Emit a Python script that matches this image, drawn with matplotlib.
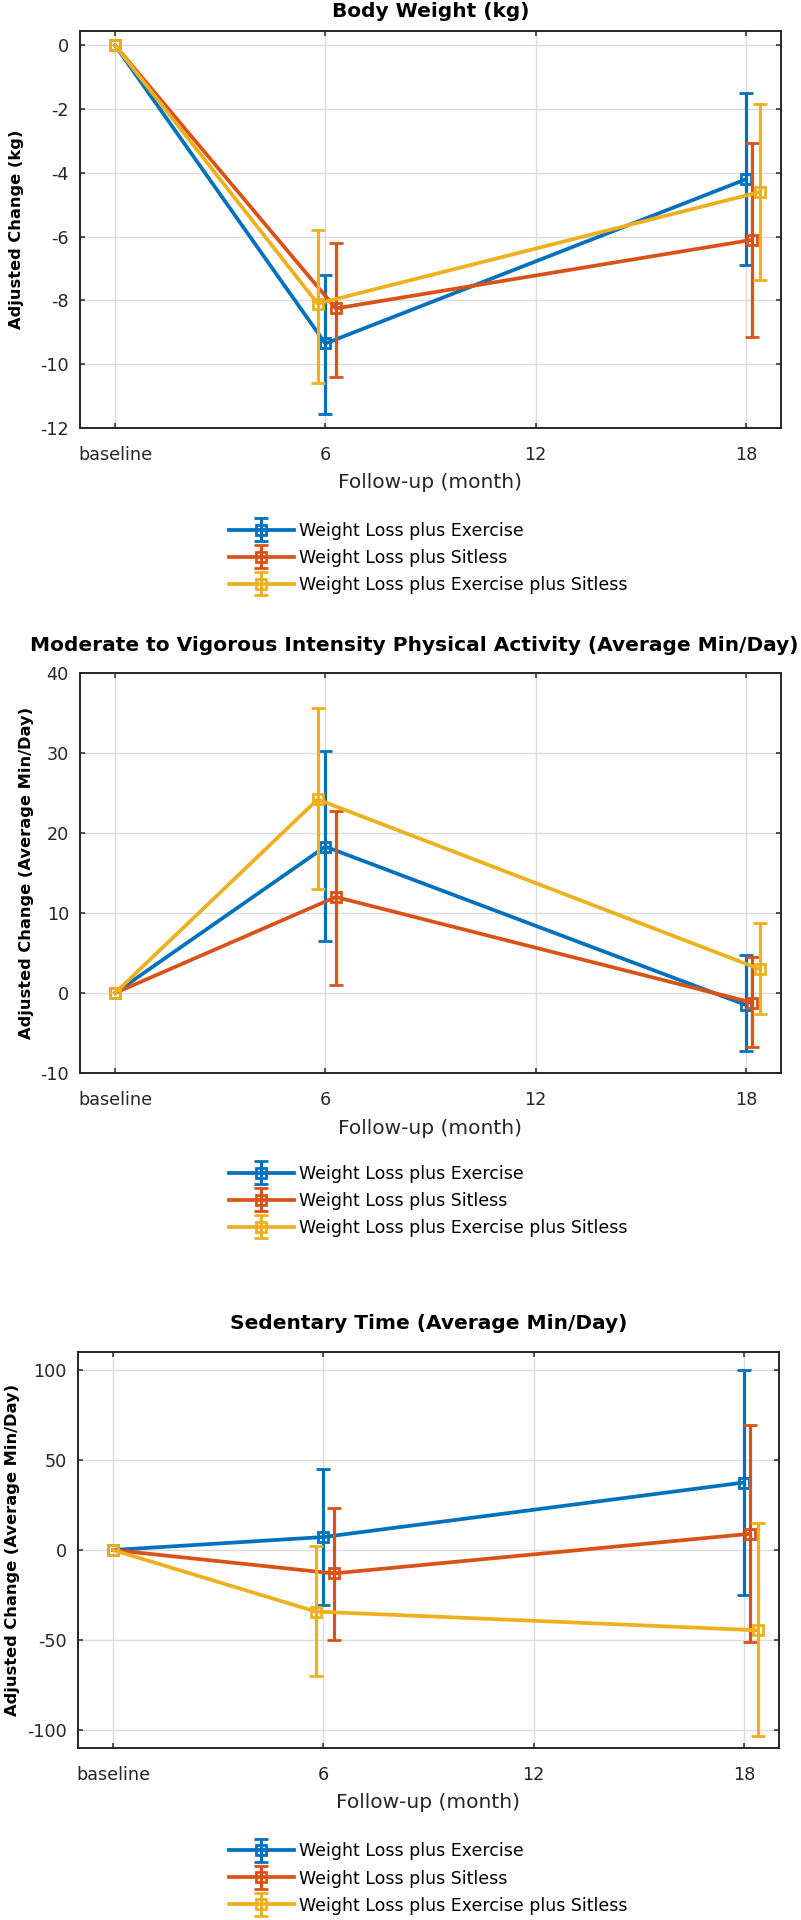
import matplotlib
matplotlib.use('Agg')
import matplotlib.pyplot as plt
import numpy as np
from matplotlib.legend_handler import HandlerErrorbar
from matplotlib.container import ErrorbarContainer

### Plotting defaults
plt.rcParams['font.family'] = ['DejaVu Sans']
plt.rcParams['axes.unicode_minus'] = False

###############################################################################
### Data
groups = ['Weight Loss plus Exercise',
          'Weight Loss plus Sitless',
          'Weight Loss plus Exercise plus Sitless']
colors = ['#0072BD', '#D95319', '#EDB120']

xtick_vals = [0, 6, 12, 18]
xtick_labels = ['baseline', '6', '12', '18']

# follow-up positions, slightly dodged per group
xpos = [[0, 6.0, 18.0],
        [0, 6.3, 18.17],
        [0, 5.78, 18.39]]

# Body weight (kg): adjusted change, lower / upper CI
weight_mean = [[0, -9.35, -4.2], [0, -8.25, -6.1], [0, -8.1, -4.6]]
weight_low = [[np.nan, -11.55, -6.9], [np.nan, -10.4, -9.15], [np.nan, -10.6, -7.35]]
weight_high = [[np.nan, -7.2, -1.5], [np.nan, -6.2, -3.05], [np.nan, -5.8, -1.85]]

# MVPA (average min/day)
mvpa_mean = [[0, 18.3, -1.5], [0, 12.0, -1.2], [0, 24.2, 3.0]]
mvpa_low = [[np.nan, 6.5, -7.2], [np.nan, 1.0, -6.7], [np.nan, 13.0, -2.6]]
mvpa_high = [[np.nan, 30.3, 4.8], [np.nan, 22.8, 4.5], [np.nan, 35.6, 8.8]]

# Sedentary time (average min/day)
sed_mean = [[0, 7.2, 37.5], [0, -13.0, 9.0], [0, -34.2, -44.6]]
sed_low = [[np.nan, -30.5, -25.0], [np.nan, -50.0, -51.0], [np.nan, -70.0, -103.5]]
sed_high = [[np.nan, 45.0, 100.0], [np.nan, 23.3, 69.5], [np.nan, 2.0, 15.0]]

titles = ['Body Weight (kg)',
          'Moderate to Vigorous Intensity Physical Activity (Average Min/Day)',
          'Sedentary Time (Average Min/Day)']
ylabels = ['Adjusted Change (kg)',
           'Adjusted Change (Average Min/Day)',
           'Adjusted Change (Average Min/Day)']
yticks_all = [np.arange(-12, 0.1, 2), np.arange(-10, 40.1, 10), np.arange(-100, 100.1, 50)]
ylims = [[-12, 0.45], [-10, 40], [-110, 110]]
means = [weight_mean, mvpa_mean, sed_mean]
lows = [weight_low, mvpa_low, sed_low]
highs = [weight_high, mvpa_high, sed_high]

###############################################################################
### Layout in pixels (figure is 801 x 1920)
W, H = 801., 1920.
# left, top, right, bottom of each axes
boxes = [[80, 31, 781, 428],
         [80, 673, 781, 1073],
         [78, 1352, 779, 1748]]
title_pads = [10, 15.5, 16.3]
title_cx = [430.5, 414, 429]
ylabel_x = [17, 27, 12.5]
legend_y = [558, 1201, 1878.5]
legend_x = 229

fig = plt.figure(figsize=(W/100, H/100), dpi=100)

for p in range(3):
    l, t, r, b = boxes[p]
    ax = fig.add_axes([l/W, 1 - b/H, (r - l)/W, (b - t)/H])

    handles = []
    for i in range(3):
        m = np.array(means[p][i])
        lo = m - np.array(lows[p][i])
        hi = np.array(highs[p][i]) - m
        h = ax.errorbar(xpos[i], m, yerr=[lo, hi], fmt='-s', color=colors[i],
                        linewidth=2.7, elinewidth=2.3, capsize=5, capthick=2.5,
                        markersize=7.5, markerfacecolor='none', markeredgewidth=2.0,
                        clip_on=False, zorder=3 + i)
        handles.append(h)

    ax.set_xlim(-1, 19)
    ax.set_ylim(ylims[p])
    ax.set_xticks(xtick_vals)
    ax.set_xticklabels(xtick_labels)
    ax.set_yticks(yticks_all[p])
    ax.set_yticklabels(['%d' % v for v in yticks_all[p]])

    ax.grid(True, color='#dcdcdc', linewidth=1.0, zorder=0)
    ax.set_axisbelow(True)
    for sp in ax.spines.values():
        sp.set_color('#262626')
        sp.set_linewidth(1.4)
    ax.tick_params(which='major', direction='in', length=3.6, width=1.1,
                   color='#262626', top=True, right=True, labelsize=12.7,
                   labelcolor='#262626')
    ax.tick_params(axis='x', pad=13.3)
    ax.tick_params(axis='y', pad=8)

    ax.set_title(titles[p], fontsize=14.5, fontweight='bold', pad=title_pads[p],
                 x=(title_cx[p] - l)/(r - l))
    ax.set_xlabel('Follow-up (month)', fontsize=14.5, va='center', color='#262626')
    ax.xaxis.set_label_coords(0.5, -55/(b - t))
    ax.set_ylabel(ylabels[p], fontsize=11.7, fontweight='bold', va='center')
    ax.yaxis.set_label_coords((ylabel_x[p] - l)/(r - l), 0.5)

    ax.legend(handles, groups, loc='center left',
              bbox_to_anchor=(legend_x/W, 1 - legend_y[p]/H),
              bbox_transform=fig.transFigure, frameon=False, borderpad=0,
              borderaxespad=0, fontsize=12.5, handlelength=3.74,
              handletextpad=0.29, labelspacing=0.52, numpoints=1,
              handler_map={ErrorbarContainer: HandlerErrorbar(yerr_size=0.66)})

fig.savefig('out.png', dpi=100)
